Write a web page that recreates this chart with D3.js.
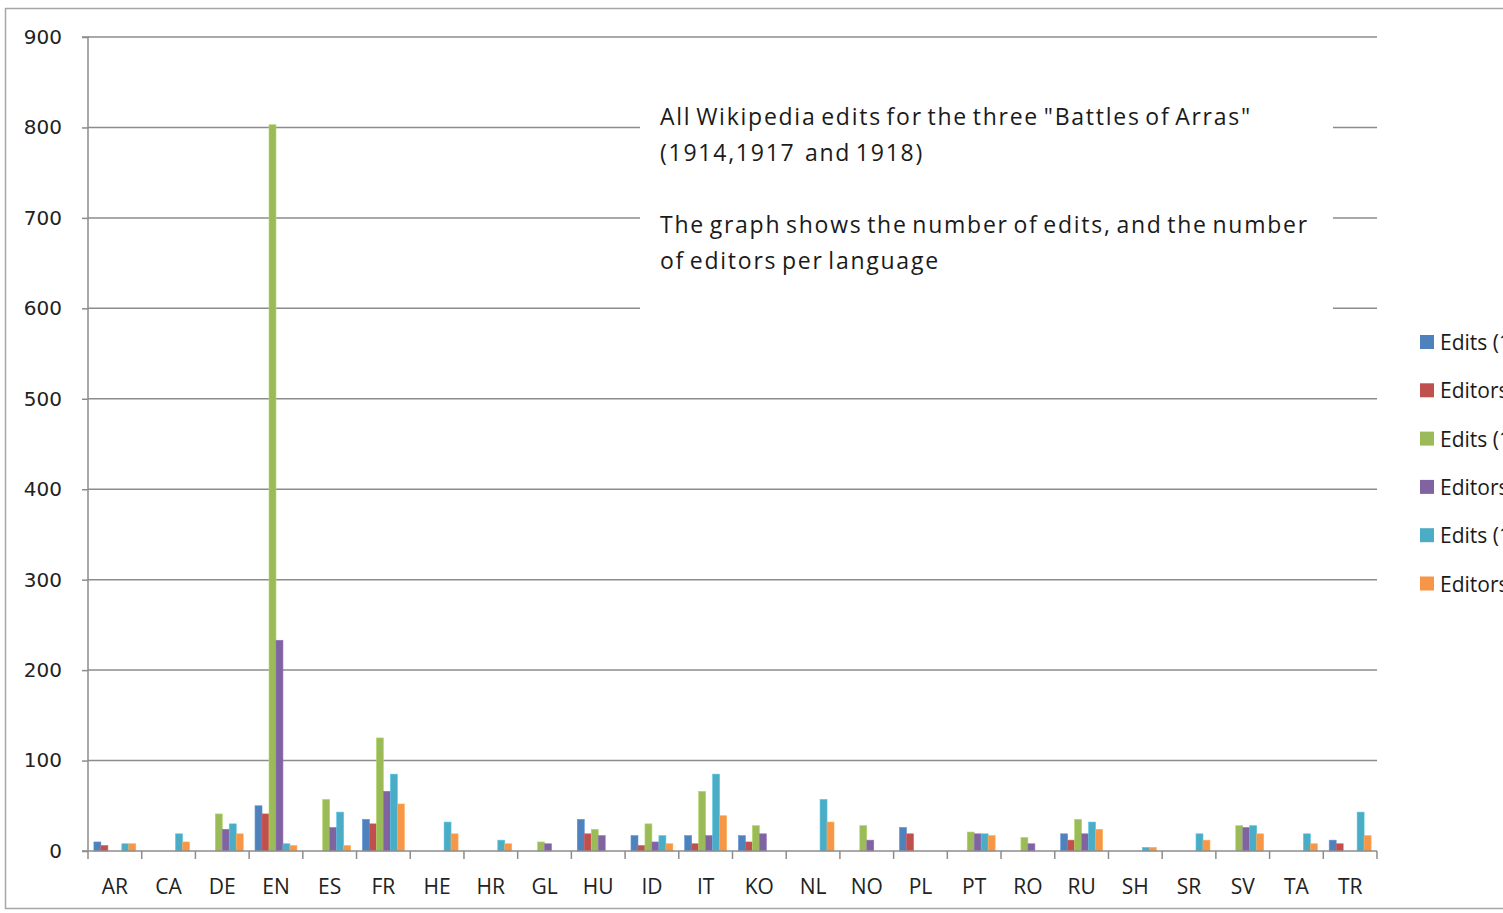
<!DOCTYPE html>
<html><head><meta charset="utf-8">
<script src="https://cdn.jsdelivr.net/npm/d3@7"></script>
<style>
html,body{margin:0;padding:0;background:#fff;overflow:hidden}
svg{display:block}
</style></head>
<body>
<svg id="c" width="1503" height="913"></svg>
<script>
const categories = ["AR","CA","DE","EN","ES","FR","HE","HR","GL","HU","ID","IT","KO","NL","NO","PL","PT","RO","RU","SH","SR","SV","TA","TR"];
const seriesNames = ["Edits (1914)","Editors (1914)","Edits (1917)","Editors (1917)","Edits (1918)","Editors (1918)"];
const seriesColors = ["#4F81BD","#C0504D","#9BBB59","#8064A2","#4BACC6","#F79646"];
const edits1914   = [10,0,0,50,0,35,0,0,0,35,17,17,17,0,0,26,0,0,19,0,0,0,0,12];
const editors1914 = [6,0,0,41,0,30,0,0,0,19,6,8,10,0,0,19,0,0,12,0,0,0,0,8];
const edits1917   = [0,0,41,803,57,125,0,0,10,24,30,66,28,0,28,0,21,15,35,0,0,28,0,0];
const editors1917 = [0,0,24,233,26,66,0,0,8,17,10,17,19,0,12,0,19,8,19,0,0,26,0,0];
const edits1918   = [8,19,30,8,43,85,32,12,0,0,17,85,0,57,0,0,19,0,32,4,19,28,19,43];
const editors1918 = [8,10,19,6,6,52,19,8,0,0,8,39,0,32,0,0,17,0,24,4,12,19,8,17];
const yTicks = [0,100,200,300,400,500,600,700,800,900];
const noteLines = ['All Wikipedia edits for the three "Battles of Arras"','(1914,1917  and 1918)','','The graph shows the number of edits, and the number','of editors per language'];

(function(){
const series = [edits1914,editors1914,edits1917,editors1917,edits1918,editors1918];
const svg = d3.select("#c");
const font = "'Open Sans', sans-serif";

svg.append("rect").attr("x",5.5).attr("y",8.5).attr("width",1600).attr("height",900)
  .attr("fill","#fff").attr("stroke","#a6a6a6").attr("stroke-width",1.5);

const pL=88, pR=1377, pT=37, pB=851;
const y = d3.scaleLinear().domain([0,900]).range([pB,pT]);
const x0 = d3.scaleBand().domain(categories).range([pL,pR]).padding(0);
const bw = x0.bandwidth();
const x1 = d3.scaleBand().domain(d3.range(6)).range([bw*0.11,bw*0.89]).padding(0);

svg.append("g").selectAll("line").data(yTicks.filter(d=>d>0)).join("line")
  .attr("x1",pL).attr("x2",pR).attr("y1",d=>y(d)).attr("y2",d=>y(d))
  .attr("stroke","#8c8c8c").attr("stroke-width",1.5);

const gBars = svg.append("g");
series.forEach((vals,si)=>{
  gBars.append("g").selectAll("rect").data(vals.map((v,i)=>({c:categories[i],v})).filter(d=>d.v>0)).join("rect")
    .attr("x",d=>x0(d.c)+x1(si)).attr("width",x1.bandwidth())
    .attr("y",d=>y(d.v)).attr("height",d=>pB-y(d.v))
    .attr("fill",seriesColors[si])
    .attr("stroke",d3.color(seriesColors[si]).brighter(0.4)).attr("stroke-width",0.6);
});

const note = svg.append("g");
note.append("rect").attr("x",640).attr("y",92).attr("width",693).attr("height",230).attr("fill","#fff");
note.selectAll("text").data(noteLines).join("text")
  .attr("x",660).attr("y",(d,i)=>125+i*36)
  .attr("font-family",font).attr("font-size",23).attr("letter-spacing",1.75).attr("word-spacing",-3)
  .attr("fill","#1a1a1a")
  .style("white-space","pre")
  .text(d=>d);

const yAxis = svg.append("g").attr("transform",`translate(${pL},0)`)
  .call(d3.axisLeft(y).tickValues(yTicks).tickSize(6).tickPadding(20).tickFormat(d3.format("d")));
yAxis.select(".domain").attr("stroke","#8c8c8c").attr("stroke-width",1.5).attr("d",`M-6,${pT}H0V${pB}`);
yAxis.selectAll(".tick line").attr("stroke","#8c8c8c").attr("stroke-width",1.5);
yAxis.selectAll(".tick text").attr("font-family","'DejaVu Sans', sans-serif").attr("font-size",20)
  .attr("fill","#222");

const xAxis = svg.append("g").attr("transform",`translate(0,${pB})`);
xAxis.append("line").attr("x1",pL-6).attr("x2",pR).attr("stroke","#8c8c8c").attr("stroke-width",1.5);
const bounds = categories.map(c=>x0(c)).concat([pR]);
xAxis.selectAll("line.t").data(bounds).join("line").attr("class","t")
  .attr("x1",d=>d).attr("x2",d=>d).attr("y1",0).attr("y2",8)
  .attr("stroke","#8c8c8c").attr("stroke-width",1.5);
xAxis.selectAll("text").data(categories).join("text")
  .attr("x",d=>x0(d)+bw/2).attr("y",43).attr("text-anchor","middle")
  .attr("font-family",font).attr("font-size",21).attr("fill","#222").text(d=>d);

const leg = svg.append("g");
seriesNames.forEach((n,i)=>{
  const yy = 342 + i*48.3;
  leg.append("rect").attr("x",1420).attr("y",yy-7).attr("width",14).attr("height",14).attr("fill",seriesColors[i]);
  leg.append("text").attr("x",1440).attr("y",yy+8).attr("font-family",font).attr("font-size",21).attr("fill","#1a1a1a").text(n);
});
})();
</script>
</body></html>
